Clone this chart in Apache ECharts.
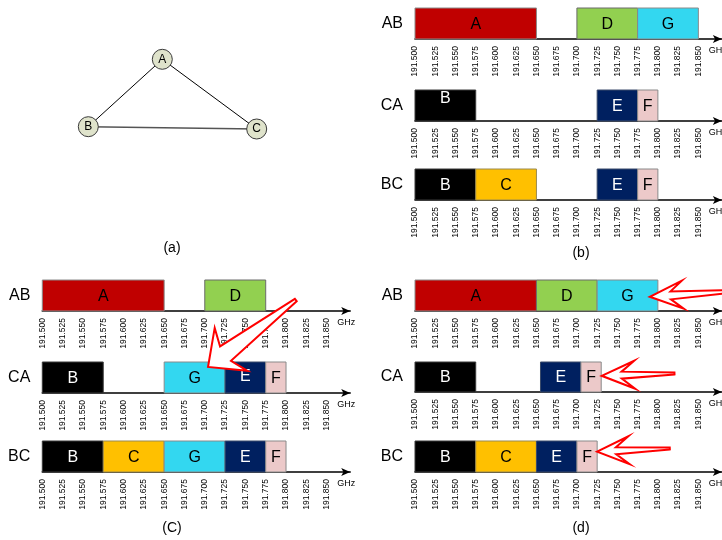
<!DOCTYPE html>
<html><head><meta charset="utf-8">
<script src="https://cdn.jsdelivr.net/npm/echarts@6/dist/echarts.min.js"></script>
<style>html,body{margin:0;padding:0;background:#fff}#c{width:722px;height:540px}</style>
</head><body><div id="c"></div>
<script>
// ---------- data ----------
const rowNames = ['AB', 'CA', 'BC'];
// [channel, start GHz, end GHz]
const panelB_AB = [['A', 191.500, 191.650], ['D', 191.700, 191.775], ['G', 191.775, 191.850]];
const panelB_CA = [['B', 191.500, 191.575], ['E', 191.725, 191.775], ['F', 191.775, 191.800]];
const panelB_BC = [['B', 191.500, 191.575], ['C', 191.575, 191.650], ['E', 191.725, 191.775], ['F', 191.775, 191.800]];
const panelC_AB = [['A', 191.500, 191.650], ['D', 191.700, 191.775]];
const panelC_CA = [['B', 191.500, 191.575], ['G', 191.650, 191.725], ['E', 191.725, 191.775], ['F', 191.775, 191.800]];
const panelC_BC = [['B', 191.500, 191.575], ['C', 191.575, 191.650], ['G', 191.650, 191.725], ['E', 191.725, 191.775], ['F', 191.775, 191.800]];
const panelD_AB = [['A', 191.500, 191.650], ['D', 191.650, 191.725], ['G', 191.725, 191.800]];
const panelD_CA = [['B', 191.500, 191.575], ['E', 191.655, 191.705], ['F', 191.705, 191.730]];
const panelD_BC = [['B', 191.500, 191.575], ['C', 191.575, 191.650], ['E', 191.650, 191.700], ['F', 191.700, 191.725]];
// axis ticks
const freqMin = 191.500;
const freqMax = 191.879;
const freqStep = 0.025;
const lastTickLabel = 191.850;
const axisUnit = 'GHz';
// annotation arrows: [tip GHz, tip level, tail GHz, tail level]
const arrowsC_CA = [[191.704, 0.84, 191.812, 3.0]];
const arrowsD_AB = [[191.790, 0.46, 191.885, 0.62]];
const arrowsD_CA = [[191.7306, 0.54, 191.8205, 0.62]];
const arrowsD_BC = [[191.7249, 0.655, 191.8147, 0.76]];
// graph
const graphNodes = [['A', 162.3, 59.3], ['B', 88.3, 126.7], ['C', 256.7, 129.0]];
const graphLinks = [['A', 'B'], ['A', 'C'], ['B', 'C']];
const captions = ['(a)', '(b)', '(C)', '(d)'];

// ---------- style ----------
const FONT = "'Liberation Sans', Arial, Helvetica, sans-serif";
const fillColors = { A: '#c00000', B: '#000000', C: '#ffc000', D: '#92d050', E: '#002060', F: '#ecc9c9', G: '#33d7f0' };
const strokeColors = { A: '#8a8a8a', B: '#3a3a3a', C: '#9a8a50', D: '#6b6b6b', E: '#3a4a6a', F: '#8a8a8a', G: '#8a8a8a' };
const textColors = { A: '#000', B: '#fff', C: '#000', D: '#000', E: '#fff', F: '#000', G: '#000' };
const labelShift = { 'b-1-B': -8, 'C-1-E': -2 };

const panels = [
  { key: 'b', rows: [panelB_AB, panelB_CA, panelB_BC], left: 415, unit: 20.24, tops: [8, 90, 169], heights: [31, 31, 31] },
  { key: 'C', rows: [panelC_AB, panelC_CA, panelC_BC], left: 42.3, unit: 20.31, tops: [280, 362, 441], heights: [31, 31, 31] },
  { key: 'd', rows: [panelD_AB, panelD_CA, panelD_BC], left: 415, unit: 20.24, tops: [280, 362, 441], heights: [31, 30, 31] }
];
const arrowSets = [
  { panel: 1, row: 1, data: arrowsC_CA, shape: { headBack: 29, headHalf: 27, notchBack: 22, notchHalf: 9, tailHalf: 1.5 } },
  { panel: 2, row: 0, data: arrowsD_AB, shape: { headBack: 33, headHalf: 14, notchBack: 21, notchHalf: 4, tailHalf: 1.5 } },
  { panel: 2, row: 1, data: arrowsD_CA, shape: { headBack: 33, headHalf: 14, notchBack: 20, notchHalf: 3.5, tailHalf: 1 } },
  { panel: 2, row: 2, data: arrowsD_BC, shape: { headBack: 32, headHalf: 14, notchBack: 19, notchHalf: 3.5, tailHalf: 1 } }
];

const grids = [], xAxes = [], yAxes = [], series = [];

function makeBarRender(rows, key, r) {
  return function (params, api) {
    const ch = rows[params.dataIndex][0];
    const p0 = api.coord([api.value(0), 0]);
    const p1 = api.coord([api.value(1), 1]);
    const x = p0[0], y = p1[1], w = p1[0] - p0[0], h = p0[1] - p1[1];
    const dy = labelShift[key + '-' + r + '-' + ch] || 0;
    return {
      type: 'group', children: [
        { type: 'rect', shape: { x: x, y: y, width: w, height: h }, style: { fill: fillColors[ch], stroke: strokeColors[ch], lineWidth: 1 } },
        { type: 'text', x: x + w / 2, y: y + h / 2 + 1 + dy, style: { text: ch, fill: textColors[ch], font: '16px ' + FONT, align: 'center', verticalAlign: 'middle' } }
      ]
    };
  };
}

function makeArrowRender(arrows, sh) {
  return function (params, api) {
    const a = arrows[params.dataIndex];
    const T = api.coord([a[0], a[1]]);
    const L = api.coord([a[2], a[3]]);
    const len = Math.hypot(L[0] - T[0], L[1] - T[1]);
    const d = [(L[0] - T[0]) / len, (L[1] - T[1]) / len];
    const n = [-d[1], d[0]];
    const P = (base, along, side) => [base[0] + d[0] * along + n[0] * side, base[1] + d[1] * along + n[1] * side];
    const pts = [
      P(L, 0, sh.tailHalf),
      P(T, sh.notchBack, sh.notchHalf),
      P(T, sh.headBack, sh.headHalf),
      T,
      P(T, sh.headBack, -sh.headHalf),
      P(T, sh.notchBack, -sh.notchHalf),
      P(L, 0, -sh.tailHalf)
    ];
    return { type: 'polygon', shape: { points: pts }, style: { fill: '#fff', stroke: '#ff0000', lineWidth: 2, lineJoin: 'miter' } };
  };
}

const gridIndex = {};
panels.forEach((p, pi) => {
  p.rows.forEach((rows, r) => {
    const gi = grids.length;
    gridIndex[pi + '-' + r] = gi;
    const width = (freqMax - freqMin) / freqStep * p.unit;
    grids.push({ left: p.left, top: p.tops[r], width: width, height: p.heights[r], containLabel: false, outerBoundsMode: 'none' });
    xAxes.push({
      type: 'value', gridIndex: gi, min: freqMin, max: freqMax, interval: freqStep,
      axisLine: { show: true, onZero: false, lineStyle: { color: '#000', width: 1.6 }, symbol: ['none', 'arrow'], symbolSize: [6, 9] },
      axisTick: { show: false }, splitLine: { show: false },
      axisLabel: {
        rotate: 90, fontSize: 8.5, fontFamily: FONT, color: '#000', margin: 7, showMaxLabel: true,
        formatter: v => (v <= lastTickLabel + 1e-6 ? v.toFixed(3) : '')
      },
      name: axisUnit, nameLocation: 'end', nameGap: -13, nameMoveOverlap: false,
      nameTextStyle: { fontSize: 9, fontFamily: FONT, color: '#000', align: 'left', verticalAlign: 'top', padding: [7, 0, 0, 0] }
    });
    yAxes.push({
      type: 'value', gridIndex: gi, min: 0, max: 1, interval: 0.5,
      axisLine: { show: false }, axisTick: { show: false }, splitLine: { show: false },
      axisLabel: { fontSize: 16, fontFamily: FONT, color: '#000', margin: 12, formatter: v => (Math.abs(v - 0.5) < 1e-6 ? rowNames[r] : '') }
    });
    series.push({
      type: 'custom', xAxisIndex: gi, yAxisIndex: gi, silent: true, z: 3,
      encode: { x: [0, 1] },
      data: rows.map(it => [it[1], it[2]]),
      renderItem: makeBarRender(rows, p.key, r)
    });
  });
});

arrowSets.forEach(s => {
  const gi = gridIndex[s.panel + '-' + s.row];
  series.push({
    type: 'custom', xAxisIndex: gi, yAxisIndex: gi, silent: true, z: 10, clip: false,
    encode: { x: [0, 2], y: [1, 3] },
    data: s.data.map(a => a.slice()),
    renderItem: makeArrowRender(s.data, s.shape)
  });
});

// triangle graph (a)
const gx = graphNodes.map(n => n[1]), gy = graphNodes.map(n => n[2]);
const gLeft = Math.min(...gx), gTop = Math.min(...gy);
series.push({
  type: 'graph', layout: 'none', roam: false, silent: true, z: 5,
  left: gLeft, top: gTop, width: Math.max(...gx) - gLeft, height: Math.max(...gy) - gTop,
  symbol: 'circle', symbolSize: 20,
  itemStyle: { color: '#dfe3cb', borderColor: '#3a3a3a', borderWidth: 1 },
  label: { show: true, position: 'inside', fontSize: 12, fontFamily: FONT, color: '#000' },
  lineStyle: { color: '#000', width: 1, opacity: 1, curveness: 0 },
  data: graphNodes.map(n => ({ name: n[0], x: n[1], y: n[2] })),
  links: graphLinks.map(l => ({ source: l[0], target: l[1], lineStyle: (l[0] === 'B' && l[1] === 'C') ? { color: '#555', width: 1.6 } : {} }))
});

const captionPos = [[172, 248], [581, 253], [172, 528], [581, 528]];
const graphic = captions.map((t, i) => ({
  type: 'text', x: captionPos[i][0], y: captionPos[i][1],
  style: { text: t, font: '14px ' + FONT, fill: '#000', align: 'center', verticalAlign: 'middle' }
}));

const chart = echarts.init(document.getElementById('c'), null, { renderer: 'canvas' });
chart.setOption({
  animation: false,
  backgroundColor: '#fff',
  grid: grids, xAxis: xAxes, yAxis: yAxes, series: series, graphic: graphic
});
</script></body></html>
